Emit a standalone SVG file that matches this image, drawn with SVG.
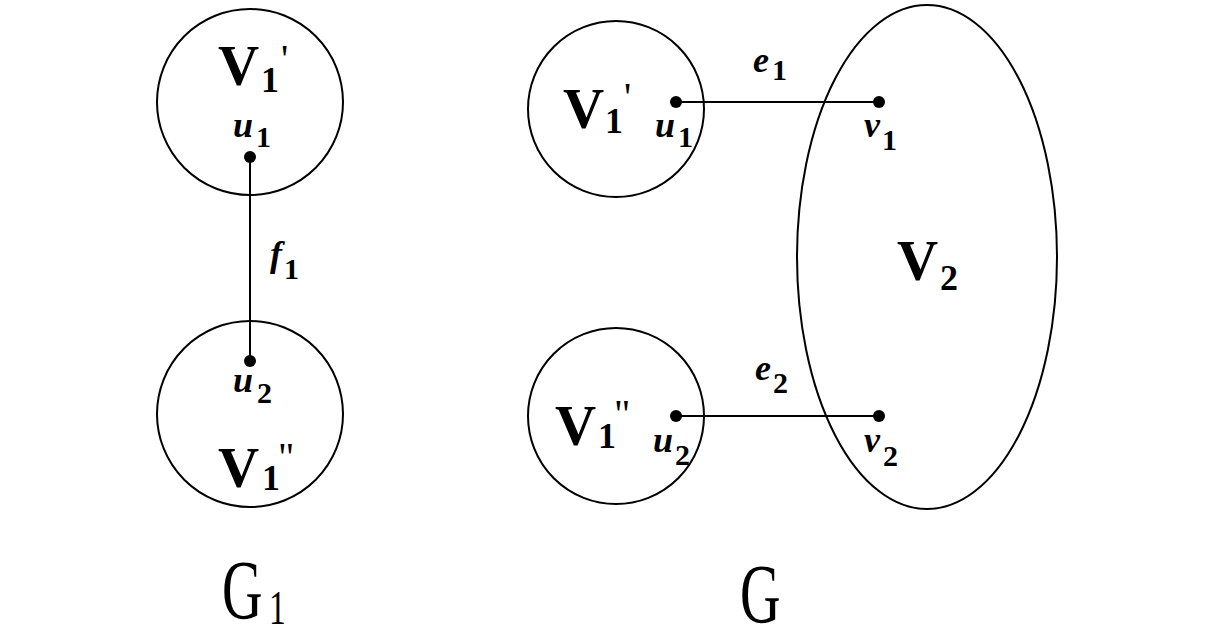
<svg xmlns="http://www.w3.org/2000/svg" width="1217" height="629" viewBox="0 0 1217 629">
<style>
.sh{fill:none;stroke:#000;stroke-width:2}
.ln{stroke:#000;stroke-width:2}
.dot{fill:#000}
text{font-family:'Liberation Serif','Times New Roman',Tinos,Times,serif}
.V{font-weight:bold;font-size:57px}
.s{font-weight:bold;font-size:36px}
.s2{font-weight:bold;font-size:30px}
.i{font-weight:bold;font-style:italic;font-size:36px}
.p{font-size:40px}
.G{font-size:85px}
.g1{font-size:48px}
</style>
<rect width="1217" height="629" fill="#fff"/>
<g id="connectors">
<line class="ln" x1="250" y1="157" x2="250" y2="361"/>
<line class="ln" x1="676" y1="102" x2="879" y2="102"/>
<line class="ln" x1="676" y1="416" x2="879" y2="416"/>
<text class="i" x="270" y="266">f</text><text class="s2" x="284" y="279">1</text>
<text class="i" x="753" y="72">e</text><text class="s2" x="772" y="80">1</text>
<text class="i" x="755" y="380">e</text><text class="s2" x="773" y="393">2</text>
</g>
<g id="G1-V1p">
<circle class="sh" cx="250" cy="102" r="93"/>
<text class="V" x="218" y="85">V</text><text class="s" x="261" y="92">1</text><text class="p" x="281" y="72">'</text>
<circle class="dot" cx="250" cy="157" r="6"/>
<text class="i" x="233" y="137">u</text><text class="s2" x="256" y="147">1</text>
</g>
<g id="G1-V1pp">
<circle class="sh" cx="250" cy="414" r="93"/>
<circle class="dot" cx="250" cy="361" r="6"/>
<text class="i" x="233" y="392">u</text><text class="s2" x="257" y="403">2</text>
<text class="V" x="218" y="487">V</text><text class="s" x="262" y="490">1</text><text class="p" x="278" y="470">"</text>
</g>
<g id="G-V1p">
<circle class="sh" cx="616" cy="109" r="88"/>
<text class="V" x="563" y="128">V</text><text class="s" x="605" y="133">1</text><text class="p" x="624" y="110">'</text>
<circle class="dot" cx="676" cy="102" r="6"/>
<text class="i" x="655" y="137">u</text><text class="s2" x="678" y="147">1</text>
</g>
<g id="G-V1pp">
<circle class="sh" cx="616" cy="416" r="88"/>
<text class="V" x="555" y="445">V</text><text class="s" x="598" y="448">1</text><text class="p" x="614" y="427">"</text>
<circle class="dot" cx="676" cy="416" r="6"/>
<text class="i" x="653" y="452">u</text><text class="s2" x="675" y="465">2</text>
</g>
<g id="G-V2">
<ellipse class="sh" cx="927" cy="257" rx="130" ry="252"/>
<circle class="dot" cx="879" cy="102" r="6"/>
<circle class="dot" cx="879" cy="416" r="6"/>
<text class="i" x="864" y="137">v</text><text class="s2" x="882" y="150">1</text>
<text class="i" x="864" y="452">v</text><text class="s2" x="883" y="466">2</text>
<text class="V" x="897" y="280">V</text><text class="s" x="940" y="290">2</text>
</g>
<g id="caption-G1">
<text class="G" transform="translate(222,619) scale(0.66,1)">G</text>
<text class="g1" transform="translate(269,624) scale(0.7,1)">1</text>
</g>
<g id="caption-G">
<text class="G" transform="translate(740,623) scale(0.66,1)">G</text>
</g>
</svg>
